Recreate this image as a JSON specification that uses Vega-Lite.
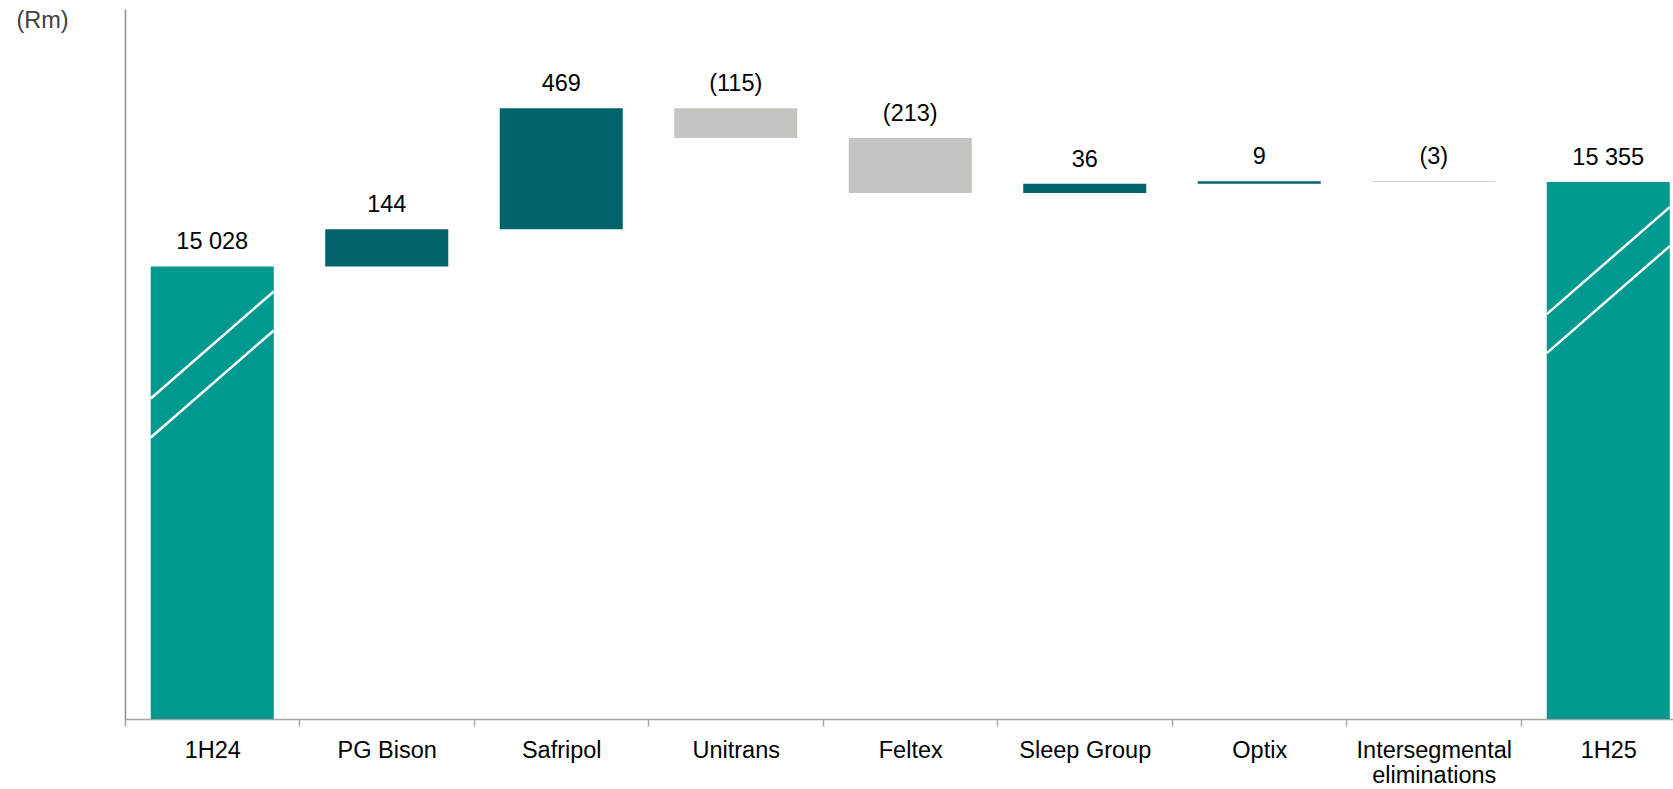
{
  "$schema": "https://vega.github.io/schema/vega-lite/v6.json",
  "width": 1548,
  "height": 710,
  "autosize": {"type": "none"},
  "padding": {"left": 125, "top": 9, "right": 0, "bottom": 70},
  "background": "white",
  "config": {"view": {"stroke": null}, "font": "Liberation Sans"},
  "data": {
    "values": [
      {"cat": "1H24", "from": null, "to": 15028, "kind": "total", "label": "15 028"},
      {"cat": "PG Bison", "from": 15028, "to": 15172, "kind": "up", "label": "144"},
      {"cat": "Safripol", "from": 15172, "to": 15641, "kind": "up", "label": "469"},
      {"cat": "Unitrans", "from": 15641, "to": 15526, "kind": "down", "label": "(115)"},
      {"cat": "Feltex", "from": 15526, "to": 15313, "kind": "down", "label": "(213)"},
      {"cat": "Sleep Group", "from": 15313, "to": 15349, "kind": "up", "label": "36"},
      {"cat": "Optix", "from": 15349, "to": 15358, "kind": "up", "label": "9"},
      {"cat": "Intersegmental eliminations", "from": 15358, "to": 15355, "kind": "down", "label": "(3)"},
      {"cat": "1H25", "from": null, "to": 15355, "kind": "total", "label": "15 355"}
    ]
  },
  "encoding": {
    "x": {
      "field": "cat",
      "type": "nominal",
      "sort": null,
      "scale": {
        "domain": ["1H24", "PG Bison", "Safripol", "Unitrans", "Feltex", "Sleep Group", "Optix", "Intersegmental eliminations", "1H25"],
        "range": [0, 1570.5],
        "paddingInner": 0.295,
        "paddingOuter": 0.1475
      },
      "axis": {
        "title": null,
        "labelAngle": 0,
        "labelFontSize": 23.5,
        "labelColor": "#000000",
        "labelPadding": 12,
        "labelLineHeight": 25,
        "labelLimit": 400,
        "labelOverlap": false,
        "labelExpr": "datum.value == 'Intersegmental eliminations' ? ['Intersegmental', 'eliminations'] : datum.value",
        "bandPosition": 0,
        "tickOffset": -25.74,
        "labelOffset": 25.74,
        "tickSize": 7,
        "tickWidth": 1.5,
        "tickColor": "#A6A6A6",
        "domainColor": "#A6A6A6",
        "domainWidth": 1.5
      }
    }
  },
  "layer": [
    {
      "transform": [{"filter": "datum.kind == 'total'"}],
      "mark": {"type": "bar"},
      "encoding": {
        "y": {
          "field": "to",
          "type": "quantitative",
          "scale": {"domain": [13274, 16026], "zero": false, "nice": false},
          "axis": {
            "title": "(Rm)",
            "labels": false,
            "ticks": false,
            "grid": false,
            "domainColor": "#8C8C8C",
            "domainWidth": 1.5,
            "titleAngle": 0,
            "titleAlign": "left",
            "titleBaseline": "alphabetic",
            "titleX": -109,
            "titleY": 18.5,
            "titleFontSize": 23.5,
            "titleFontWeight": "normal",
            "titleColor": "#404040",
            "titleFont": "Liberation Sans"
          }
        },
        "y2": {"datum": 13274},
        "color": {
          "field": "kind",
          "type": "nominal",
          "scale": {"domain": ["total", "up", "down"], "range": ["#009990", "#00636A", "#C3C5C0"]},
          "legend": null
        }
      }
    },
    {
      "transform": [{"filter": "datum.kind != 'total'"}],
      "mark": {"type": "bar"},
      "encoding": {
        "y": {"field": "from", "type": "quantitative", "scale": {"domain": [13274, 16026], "zero": false, "nice": false}},
        "y2": {"field": "to"},
        "color": {
          "field": "kind",
          "type": "nominal",
          "scale": {"domain": ["total", "up", "down"], "range": ["#009990", "#00636A", "#C3C5C0"]},
          "legend": null
        }
      }
    },
    {
      "transform": [{"filter": "datum.kind == 'total'"}],
      "mark": {"type": "rule", "color": "white", "strokeWidth": 2.5, "xOffset": -61.5, "x2Offset": 61.5, "yOffset": 132, "y2Offset": 25},
      "encoding": {
        "x": {"field": "cat", "type": "nominal", "bandPosition": 0.5},
        "x2": {"field": "cat", "bandPosition": 0.5},
        "y": {"field": "to", "type": "quantitative", "scale": {"domain": [13274, 16026], "zero": false, "nice": false}},
        "y2": {"field": "to"}
      }
    },
    {
      "transform": [{"filter": "datum.kind == 'total'"}],
      "mark": {"type": "rule", "color": "white", "strokeWidth": 2.5, "xOffset": -61.5, "x2Offset": 61.5, "yOffset": 171, "y2Offset": 64},
      "encoding": {
        "x": {"field": "cat", "type": "nominal", "bandPosition": 0.5},
        "x2": {"field": "cat", "bandPosition": 0.5},
        "y": {"field": "to", "type": "quantitative", "scale": {"domain": [13274, 16026], "zero": false, "nice": false}},
        "y2": {"field": "to"}
      }
    },
    {
      "transform": [{"filter": "datum.kind != 'down'"}],
      "mark": {"type": "text", "dy": -17, "baseline": "alphabetic", "fontSize": 23.5, "color": "#000000"},
      "encoding": {
        "y": {"field": "to", "type": "quantitative", "scale": {"domain": [13274, 16026], "zero": false, "nice": false}},
        "text": {"field": "label"}
      }
    },
    {
      "transform": [{"filter": "datum.kind == 'down'"}],
      "mark": {"type": "text", "dy": -17, "baseline": "alphabetic", "fontSize": 23.5, "color": "#000000"},
      "encoding": {
        "y": {"field": "from", "type": "quantitative", "scale": {"domain": [13274, 16026], "zero": false, "nice": false}},
        "text": {"field": "label"}
      }
    }
  ]
}
